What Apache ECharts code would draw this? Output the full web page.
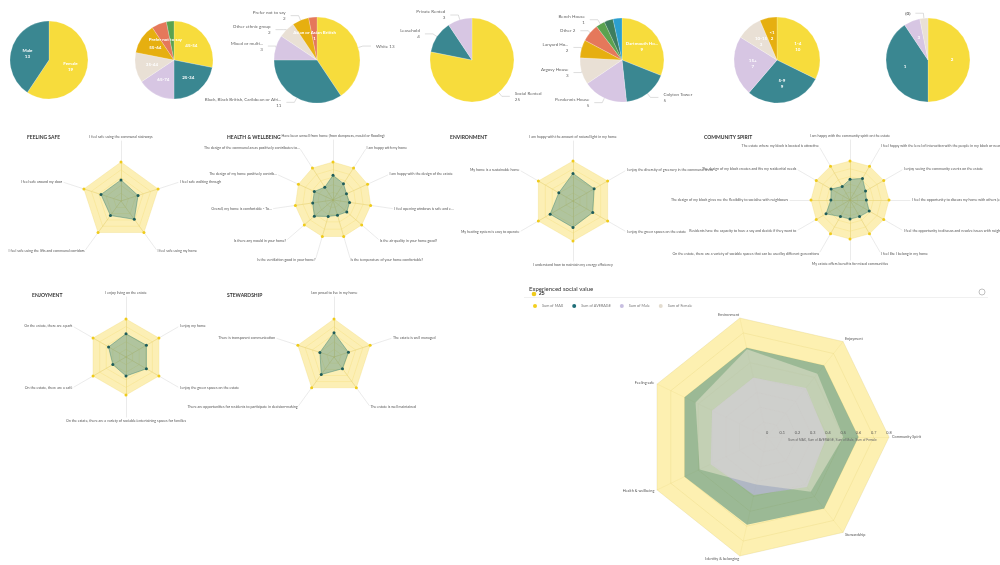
<!DOCTYPE html>
<html>
<head>
<meta charset="utf-8">
<script src="https://cdn.jsdelivr.net/npm/echarts@6/dist/echarts.min.js"></script>
<style>
  html, body { margin: 0; background: #fff; }
  #main { width: 1000px; height: 565px; }
</style>
</head>
<body>
<div id="main"></div>
<script>
// ---- pie data ----
const genderNames = ['Female', 'Male']
const genderValues = [19, 13]
const ageNames = ['45-54', '25-34', '65-74', '35-44', '55-64', 'Prefer not to say', '18-24']
const ageValues = [9, 7, 5, 4, 4, 2, 1]
const ethnicNames = ['White', 'Black, Black British, Caribbean or Afri...', 'Mixed or multi...', 'Other ethnic group', 'Prefer not to say', 'Asian or Asian British']
const ethnicValues = [13, 11, 3, 2, 2, 1]
const tenureNames = ['Social Rented', 'Leasehold', 'Private Rented']
const tenureValues = [25, 4, 3]
const blockNames = ['Dartmouth Ho...', 'Colyton Tower', 'Pendennis House', 'Argosy House', 'Lanyard Ho...', 'Other', 'Bench House', 'Hawke House', 'Ensign House']
const blockValues = [9, 5, 5, 3, 2, 2, 1, 1, 1]
const yearsNames = ['1-4', '5-9', '15+', '10-15', '<1']
const yearsValues = [10, 9, 7, 3, 2]
const bedNames = ['2', '1', '3', '(0)']
const bedValues = [16, 13, 2, 1]

// ---- small radar data (indicators in drawing order, counter-clockwise from top) ----
const scaleMax = 5
const safeLabels = ['I feel safe using the communal stairways', 'I feel safe around my door', 'I feel safe using the lifts and communal corridors', 'I feel safe using my home', 'I feel safe walking through']
const safeValues = [2.7, 2.7, 2.3, 2.9, 2.3]
const healthLabels = ['Have been unwell from home (from dampness, mould or flooding)', 'The design of the communal areas positively contributes to...', 'The design of my home positively contrib...', 'Overall, my home is comfortable - To...', 'Is there any mould in your home?', 'Is the ventilation good in your home?', 'Is the temperature of your home comfortable?', 'Is the air quality in your home good?', 'I feel opening windows is safe and e...', 'I am happy with the design of the estate', 'I am happy with my home']
const healthValues = [3.25, 2.0, 2.7, 2.7, 3.25, 2.25, 2.1, 2.4, 2.2, 1.95, 2.55]
const envLabels = ['I am happy with the amount of natural light in my home', 'My home is a sustainable home', 'My heating system is easy to operate', 'I understand how to maintain my energy efficiency', 'I enjoy the green spaces on the estate', 'I enjoy the diversity of greenery in the communal areas']
const envValues = [3.45, 2.05, 3.3, 3.3, 2.85, 3.05]
const communityLabels = ['I am happy with the community spirit on the estate', 'The estate where my block is located is attractive', 'The design of my block creates and fits my residential needs', 'The design of my block gives me the flexibility to socialise with neighbours', 'Residents have the capacity to have a say and decide if they want to', 'On the estate, there are a variety of sociable spaces that can be used by different generations', 'My estate offers benefits for mixed communities', 'I feel like I belong in my home', 'I feel the opportunity to discuss and resolve issues with neighbours in my block', 'I feel the opportunity to discuss my home with others (e.g. tenants\' ass...', 'I enjoy seeing the community events on the estate', 'I feel happy with the level of interaction with the people in my block or nearby']
const communityValues = [2.65, 2.0, 2.8, 2.45, 3.55, 2.45, 2.45, 2.45, 2.85, 2.1, 2.3, 3.2]
const enjoyLabels = ['I enjoy living on the estate', 'On the estate, there are a park', 'On the estate, there are a café', 'On the estate, there are a variety of sociable/entertaining spaces for families', 'I enjoy the green spaces on the estate', 'I enjoy my home']
const enjoyValues = [3.05, 2.65, 2.0, 2.5, 3.1, 3.1]
const stewardLabels = ['I am proud to live in my home', 'There is transparent communication', 'There are opportunities for residents to participate in decision-making', 'The estate is well maintained', 'The estate is well managed']
const stewardValues = [3.2, 1.95, 2.85, 1.9, 2.0]

// ---- big radar data ----
const themeNames = ['Community Spirit', 'Enjoyment', 'Environment', 'Feeling safe', 'Health & wellbeing', 'Identity & belonging', 'Stewardship']
const sumMax = [0.8, 0.8, 0.8, 0.8, 0.8, 0.8, 0.8]
const sumAverage = [0.6, 0.6, 0.6, 0.6, 0.6, 0.59, 0.6]
const sumMale = [0.39, 0.41, 0.4, 0.4, 0.41, 0.39, 0.42]
const sumFemale = [0.5, 0.53, 0.59, 0.52, 0.49, 0.32, 0.46]
const legendNames = ['Sum of MAX', 'Sum of AVERAGE', 'Sum of Male', 'Sum of Female']

const palette = ['#F7DC3C', '#3A8791', '#D7C6E3', '#E9E0D5', '#E6AF10', '#E5785B', '#5BA24F', '#3D7D5E', '#2C9FCF']

let chart = echarts.init(document.getElementById('main'))

let radars = []
let series = []

// 饼图 - 每个饼图都从调色板第一个颜色开始
function toData (names, values) {
  return names.map((n, i) => ({ name: n, value: values[i], itemStyle: { color: palette[i % palette.length] } }))
}
function pie (names, values, cx, cy, r, label) {
  return {
    type: 'pie',
    center: [cx, cy],
    radius: r,
    data: toData(names, values),
    label: label,
    labelLine: { length: 5, length2: 8, lineStyle: { color: '#bbb', width: 0.5 } },
    itemStyle: { borderColor: '#fff', borderWidth: 0.2 }
  }
}
const inside = fmt => ({ position: 'inside', color: '#fff', fontSize: 4.5, fontWeight: 'bold', lineHeight: 6, formatter: fmt })
const outside = {
  color: '#666',
  fontSize: 4.5,
  lineHeight: 6,
  formatter: p => p.name.length <= 5 ? p.name + ' ' + p.value : p.name + '\n' + p.value
}

series.push(pie(genderNames, genderValues, 49, 60, 39, inside('{b}\n{c}')))
series.push(pie(ageNames, ageValues, 174, 60, 39, inside('{b}')))
let ethnic = pie(ethnicNames, ethnicValues, 317, 60, 43, outside)
ethnic.data[5].label = inside('{b}\n{c}')
series.push(ethnic)
series.push(pie(tenureNames, tenureValues, 472, 60, 42, outside))
let block = pie(blockNames, blockValues, 622, 60, 42, outside)
block.data[0].label = inside('{b}\n{c}')
block.data[7].label = { show: false }
block.data[7].labelLine = { show: false }
block.data[8].label = { show: false }
block.data[8].labelLine = { show: false }
series.push(block)
series.push(pie(yearsNames, yearsValues, 777, 60, 43, inside('{b}\n{c}')))
let bed = pie(bedNames, bedValues, 928, 60, 42, inside('{b}'))
bed.data[3].label = { position: 'outside', color: '#666', fontSize: 4.5, formatter: '{b}' }
series.push(bed)

// 小雷达图 - 外层只画坐标轴和标签，内层画数据
function smallRadar (labels, values, cx, cy, r, rOuter) {
  radars.push({
    center: [cx, cy],
    radius: rOuter,
    indicator: labels.map(n => ({ name: n, max: scaleMax })),
    splitNumber: 1,
    splitLine: { show: false },
    splitArea: { show: false },
    axisLine: { lineStyle: { color: '#d6d6d6', width: 0.5 } },
    axisName: { color: '#555', fontSize: 3.6 },
    nameGap: 2
  })
  radars.push({
    center: [cx, cy],
    radius: r,
    indicator: labels.map(() => ({ name: '', max: scaleMax })),
    splitNumber: 5,
    splitLine: { lineStyle: { color: 'rgba(226,196,60,0.45)', width: 0.5 } },
    splitArea: { show: false },
    axisLine: { lineStyle: { color: 'rgba(226,196,60,0.6)', width: 0.5 } },
    axisName: { show: false }
  })
  series.push({
    type: 'radar',
    radarIndex: radars.length - 1,
    symbol: 'circle',
    symbolSize: 3,
    data: [
      {
        value: labels.map(() => scaleMax),
        itemStyle: { color: '#EFCB1C' },
        lineStyle: { width: 0 },
        areaStyle: { color: 'rgba(249,222,100,0.48)', opacity: 1 }
      },
      {
        value: values,
        itemStyle: { color: '#1E5C5A' },
        lineStyle: { color: '#4b8a78', width: 0.5 },
        areaStyle: { color: 'rgba(52,125,120,0.38)', opacity: 1 }
      }
    ]
  })
}
smallRadar(safeLabels, safeValues, 121, 201, 39, 60)
smallRadar(healthLabels, healthValues, 333, 200, 38, 60)
smallRadar(envLabels, envValues, 573, 201, 40, 60)
smallRadar(communityLabels, communityValues, 850, 200, 39, 60)
smallRadar(enjoyLabels, enjoyValues, 126, 357, 38, 60)
smallRadar(stewardLabels, stewardValues, 334, 357, 38, 60)

// 大雷达图
radars.push({
  center: [767, 437],
  radius: 122,
  startAngle: 0,
  splitNumber: 8,
  indicator: themeNames.map(n => ({ name: n, min: 0, max: 0.8 })),
  splitLine: { lineStyle: { color: 'rgba(190,170,80,0.35)', width: 0.6 } },
  splitArea: { show: false },
  axisLine: { lineStyle: { color: 'rgba(190,170,80,0.3)', width: 0.5 } },
  axisName: { color: '#555', fontSize: 3.8 },
  nameGap: 3
})
const bigColors = ['#F2CF1E', '#1F6E78', '#C7BEE0', '#E3DCCF']
const bigAreas = ['rgba(252,226,105,0.52)', 'rgba(48,125,120,0.48)', 'rgba(190,182,226,0.6)', 'rgba(238,232,214,0.48)']
const bigValues = [sumMax, sumAverage, sumMale, sumFemale]
series.push({
  type: 'radar',
  radarIndex: radars.length - 1,
  symbol: 'none',
  data: legendNames.map((n, i) => ({
    name: n,
    value: bigValues[i],
    itemStyle: { color: bigColors[i] },
    lineStyle: { width: 0 },
    areaStyle: { color: bigAreas[i], opacity: 1 }
  }))
})

const titleStyle = { fontSize: 5, fontWeight: 'bold', color: '#333', fontFamily: 'Lato' }
let options = {
  animation: false,
  textStyle: { fontFamily: 'Lato' },
  title: [
    { text: 'FEELING SAFE', left: 22, top: 130, textStyle: titleStyle },
    { text: 'HEALTH & WELLBEING', left: 222, top: 130, textStyle: titleStyle },
    { text: 'ENVIRONMENT', left: 445, top: 130, textStyle: titleStyle },
    { text: 'COMMUNITY SPIRIT', left: 699, top: 130, textStyle: titleStyle },
    { text: 'ENJOYMENT', left: 27, top: 288, textStyle: titleStyle },
    { text: 'STEWARDSHIP', left: 222, top: 288, textStyle: titleStyle },
    { text: 'Experienced social value', left: 524, top: 281, textStyle: { fontSize: 6, fontWeight: 'normal', color: '#333' } }
  ],
  legend: {
    data: legendNames,
    left: 528,
    top: 299,
    icon: 'circle',
    itemWidth: 4,
    itemHeight: 4,
    itemGap: 9,
    textStyle: { fontSize: 3.8, color: '#777' }
  },
  radar: radars,
  polar: { center: [767, 437], radius: 122 },
  angleAxis: { show: false, startAngle: 0, min: 0, max: 360 },
  radiusAxis: {
    z: 20,
    min: 0,
    max: 0.8,
    interval: 0.1,
    axisLine: { show: false },
    axisTick: { show: false },
    splitLine: { show: false },
    axisLabel: { fontSize: 3.8, color: '#555', margin: 2 }
  },
  graphic: [
    { type: 'circle', shape: { cx: 534, cy: 294, r: 2.3 }, style: { fill: '#EFCB1C' } },
    { type: 'text', left: 539, top: 291, style: { text: '25', fontSize: 5, fontWeight: 'bold', fill: '#333' } },
    { type: 'line', shape: { x1: 524, y1: 297.5, x2: 988, y2: 297.5 }, style: { stroke: '#e6e6e6', lineWidth: 0.6 } },
    { type: 'circle', shape: { cx: 982, cy: 292, r: 3 }, style: { fill: 'none', stroke: '#999', lineWidth: 0.6 } },
    { type: 'text', left: 788, top: 439, z: 20, style: { text: 'Sum of MAX, Sum of AVERAGE, Sum of Male, Sum of Female', fontSize: 3.2, fill: '#666' } }
  ],
  series: series
}
chart.setOption(options)
</script>
</body>
</html>
